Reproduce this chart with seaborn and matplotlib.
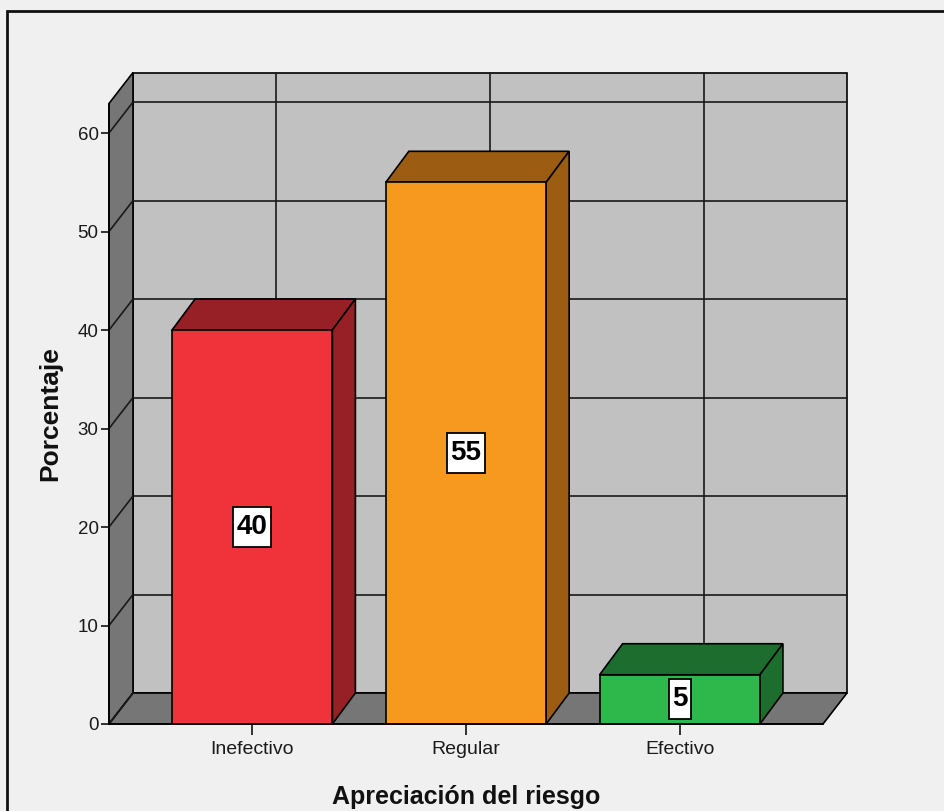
import matplotlib
matplotlib.use("Agg")
import matplotlib.pyplot as plt
from matplotlib.patches import Polygon, Rectangle
from matplotlib import font_manager
import seaborn as sns
import pandas as pd

# Data
categorias = ["Inefectivo", "Regular", "Efectivo"]
porcentajes = [40, 55, 5]
y_ticks = [0, 10, 20, 30, 40, 50, 60]
y_max = 63

# Colours: front face / top & side face
color_frente = ["#F0323A", "#F7991F", "#2EB84B"]
color_sombra = ["#962025", "#9C5C12", "#1D6E2E"]
color_pared = "#C1C1C1"
color_piso = "#767676"
color_fondo = "#F0F0F0"

sns.set_theme(style="white")
installed = {f.name for f in font_manager.fontManager.ttflist}
narrow = "Liberation Sans Narrow" if "Liberation Sans Narrow" in installed else "Liberation Sans"
plt.rcParams["font.family"] = ["Liberation Sans", "DejaVu Sans"]

W, H = 945, 811
fig = plt.figure(figsize=(W / 100, H / 100), dpi=100, facecolor=color_fondo)
ax = fig.add_axes([109 / W, 87 / H, 714 / W, 620.5 / H])
ax.set_facecolor("none")

df = pd.DataFrame({"cat": categorias, "pct": porcentajes})
sns.barplot(data=df, x="cat", y="pct", hue="cat", palette=color_frente,
            width=0.75, edgecolor="black", linewidth=1.2, legend=False,
            saturation=1, ax=ax, zorder=4)

x0, x1 = -0.67, 2.67
ax.set_xlim(x0, x1)
ax.set_ylim(0, y_max)

# depth offsets (pixels) converted to data units
px_x = ax.transData.transform((1, 0))[0] - ax.transData.transform((0, 0))[0]
px_y = ax.transData.transform((0, 1))[1] - ax.transData.transform((0, 0))[1]
dx, dy = 24 / px_x, 31 / px_y
bdx, bdy = 23 / px_x, 31 / px_y

lw = 1.2
# back wall
ax.add_patch(Rectangle((x0 + dx, dy), x1 - x0, y_max, fc=color_pared, ec="black",
                       lw=lw, zorder=1, clip_on=False))
for t in y_ticks[1:]:
    ax.plot([x0 + dx, x1 + dx], [t + dy, t + dy], color="#1a1a1a", lw=lw,
            zorder=1.5, clip_on=False)
for i in range(len(categorias)):
    ax.plot([i + dx, i + dx], [dy, y_max + dy], color="#1a1a1a", lw=lw,
            zorder=1.5, clip_on=False)

# left wall
ax.add_patch(Polygon([(x0, 0), (x0 + dx, dy), (x0 + dx, y_max + dy), (x0, y_max)],
                     closed=True, fc=color_piso, ec="black", lw=lw, zorder=2,
                     clip_on=False))
for t in y_ticks:
    ax.plot([x0, x0 + dx], [t, t + dy], color="#1a1a1a", lw=lw, zorder=2.5,
            clip_on=False)

# floor
ax.add_patch(Polygon([(x0, 0), (x1, 0), (x1 + dx, dy), (x0 + dx, dy)],
                     closed=True, fc=color_piso, ec="black", lw=lw, zorder=2,
                     clip_on=False))

# top and side faces of each bar, plus value labels
bars = [p for p in ax.patches if isinstance(p, Rectangle) and p.get_zorder() == 4]
bars = sorted(bars, key=lambda p: p.get_x())
renderer = fig.canvas.get_renderer()
for bar, sombra, val in zip(bars, color_sombra, porcentajes):
    bx, bw, bh = bar.get_x(), bar.get_width(), bar.get_height()
    ax.add_patch(Polygon([(bx, bh), (bx + bw, bh), (bx + bw + bdx, bh + bdy),
                          (bx + bdx, bh + bdy)], closed=True, fc=sombra,
                         ec="black", lw=lw, zorder=3, clip_on=False))
    ax.add_patch(Polygon([(bx + bw, 0), (bx + bw + bdx, bdy), (bx + bw + bdx, bh + bdy),
                          (bx + bw, bh)], closed=True, fc=sombra,
                         ec="black", lw=lw, zorder=3, clip_on=False))
    cx, cy = bx + bw / 2, bh / 2
    txt = ax.text(cx, cy, f"{val}", ha="center", va="center",
                  fontsize=20, fontweight="bold", family=[narrow, "DejaVu Sans"],
                  color="black", zorder=6)
    tw = txt.get_window_extent(renderer).width
    hw, hh = (tw / 2 + 3.5) / px_x, 20 / px_y
    ax.add_patch(Rectangle((cx - hw, cy - hh), 2 * hw, 2 * hh, fc="white",
                           ec="black", lw=1.3, zorder=5.5))

# axes styling
for s in ["top", "right"]:
    ax.spines[s].set_visible(False)
for s in ["left", "bottom"]:
    ax.spines[s].set_color("black")
    ax.spines[s].set_linewidth(lw)
    ax.spines[s].set_zorder(7)
ax.set_yticks(y_ticks)
ax.tick_params(axis="y", length=6, width=1.3, color="#222222", pad=1.5,
               labelsize=13.5, labelcolor="#1a1a1a", left=True)
ax.tick_params(axis="x", length=8, width=1.3, color="#222222", pad=4,
               labelsize=14, labelcolor="#1a1a1a", bottom=True)
for lab in ax.get_xticklabels() + ax.get_yticklabels():
    lab.set_family([narrow, "DejaVu Sans"])
ax.set_xlabel("Apreciación del riesgo", fontsize=18, fontweight="bold",
              color="#111111", labelpad=20)
ax.set_ylabel("Porcentaje", fontsize=19, fontweight="bold", color="#111111",
              labelpad=11)

# outer frame
fig.add_artist(Rectangle((7 / W, -0.02), 1.05, 1 - 11 / H + 0.02,
                         transform=fig.transFigure, fill=False, ec="#111111",
                         lw=2))

fig.savefig("out.png", dpi=100, facecolor=color_fondo)
